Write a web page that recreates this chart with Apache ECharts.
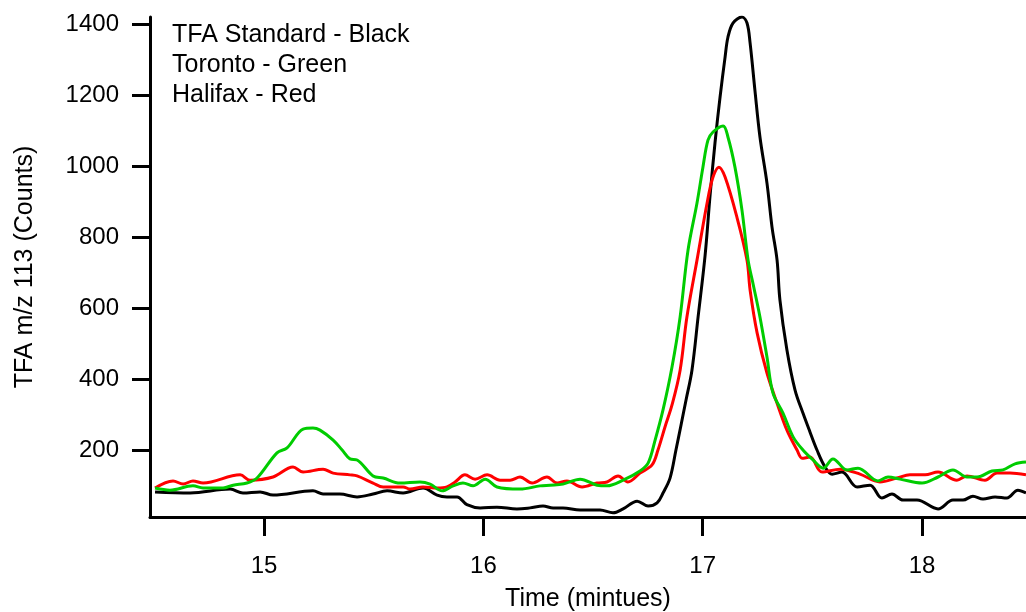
<!DOCTYPE html>
<html>
<head>
<meta charset="utf-8">
<script src="https://cdn.jsdelivr.net/npm/echarts@6/dist/echarts.min.js"></script>
<style>
html,body{margin:0;padding:0;background:#fff;}
#chart{width:1026px;height:612px;}
</style>
</head>
<body>
<div id="chart"></div>
<script>
// Tick labels
var xTicks = [15, 16, 17, 18];
var yTicks = [200, 400, 600, 800, 1000, 1200, 1400];

// TFA Standard - Black  [time (min), counts]
var blackData = [
[14.503,82],[14.663,79],[14.845,90],[14.904,79],[14.982,82],[15.041,73],[15.223,85],[15.269,76],
[15.346,76],[15.424,68],[15.497,76],[15.561,85],[15.634,79],[15.725,93],[15.789,73],[15.834,68],
[15.880,68],[15.925,46],[15.985,37],[16.062,39],[16.153,34],[16.213,37],[16.272,42],[16.318,37],
[16.363,37],[16.441,31],[16.532,31],[16.591,23],[16.637,34],[16.701,56],[16.751,42],[16.792,51],
[16.819,79],[16.851,121],[16.878,200],[16.901,270],[16.924,341],[16.951,425],[16.979,575],[17.011,749],
[17.033,913],[17.056,1065],[17.079,1194],[17.102,1307],[17.115,1363],[17.138,1403],[17.179,1420],[17.202,1403],
[17.216,1347],[17.238,1214],[17.261,1082],[17.293,952],[17.316,828],[17.339,735],[17.352,623],[17.384,482],
[17.421,369],[17.457,304],[17.489,251],[17.521,200],[17.558,152],[17.590,132],[17.635,138],[17.704,96],
[17.763,101],[17.817,65],[17.863,76],[17.913,59],[17.977,59],[18.073,34],[18.141,59],[18.187,59],
[18.232,70],[18.278,62],[18.333,68],[18.387,65],[18.437,87],[18.474,79]
];

// Toronto - Green
var greenData = [
[14.503,93],[14.571,87],[14.676,99],[14.722,93],[14.813,93],[14.859,101],[14.922,107],[14.968,121],
[15.059,192],[15.105,206],[15.178,259],[15.223,262],[15.255,256],[15.315,228],[15.356,200],[15.392,175],
[15.424,172],[15.497,127],[15.543,121],[15.620,107],[15.711,110],[15.757,104],[15.812,85],[15.862,99],
[15.907,107],[15.953,99],[16.008,118],[16.062,96],[16.167,90],[16.258,99],[16.304,101],[16.363,104],
[16.441,118],[16.518,101],[16.564,99],[16.637,115],[16.714,141],[16.751,163],[16.783,228],[16.819,313],
[16.860,434],[16.897,575],[16.933,763],[16.974,896],[17.001,997],[17.024,1073],[17.047,1096],[17.093,1113],
[17.115,1082],[17.147,997],[17.179,876],[17.207,735],[17.229,670],[17.261,575],[17.293,462],[17.320,361],
[17.366,304],[17.412,237],[17.457,200],[17.503,172],[17.549,149],[17.594,175],[17.658,144],[17.708,149],
[17.799,113],[17.845,124],[17.900,118],[18.000,107],[18.073,124],[18.141,144],[18.205,124],[18.251,124],
[18.319,141],[18.369,144],[18.424,161],[18.474,166]
];

// Halifax - Red
var redData = [
[14.503,93],[14.585,113],[14.631,104],[14.676,113],[14.722,107],[14.891,130],[14.936,115],[15.041,124],
[15.132,152],[15.178,138],[15.269,146],[15.315,135],[15.392,130],[15.424,127],[15.497,107],[15.543,96],
[15.634,96],[15.666,90],[15.725,96],[15.789,93],[15.834,96],[15.871,110],[15.916,130],[15.962,118],
[16.017,130],[16.076,115],[16.122,115],[16.167,124],[16.222,107],[16.290,124],[16.336,107],[16.381,113],
[16.450,96],[16.518,107],[16.564,110],[16.614,127],[16.659,110],[16.714,135],[16.769,158],[16.796,200],
[16.828,265],[16.860,327],[16.897,425],[16.928,575],[16.974,735],[17.020,896],[17.047,969],[17.074,997],
[17.102,969],[17.156,856],[17.202,735],[17.216,651],[17.248,530],[17.293,417],[17.339,332],[17.384,256],
[17.430,200],[17.453,177],[17.489,180],[17.544,138],[17.626,146],[17.717,132],[17.808,110],[17.886,121],
[17.945,130],[18.014,130],[18.073,138],[18.159,115],[18.205,127],[18.287,115],[18.342,135],[18.401,135],
[18.474,130]
];

var legendLines = ['TFA Standard - Black', 'Toronto - Green', 'Halifax - Red'];

var FONT = '"Liberation Sans", Arial, sans-serif';
var FS = 24;
var FSN = 25;
var chart = echarts.init(document.getElementById('chart'), null, {renderer: 'canvas'});
function mkSeries(name, data, color) {
  return {
    name: name, type: 'line', data: data, showSymbol: false, smooth: 0.35,
    lineStyle: {color: color, width: 3}, itemStyle: {color: color},
    animation: false, clip: true
  };
}
function plain(v) { return String(v); }
chart.setOption({
  animation: false,
  backgroundColor: '#ffffff',
  title: {
    text: legendLines.join('\n'),
    left: 167, top: 15,
    textStyle: {fontFamily: FONT, fontSize: FSN, fontWeight: 'normal', color: '#000', lineHeight: 30}
  },
  grid: {left: 150, right: 0, top: 17, bottom: 95, containLabel: false, outerBoundsMode: 'none'},
  xAxis: {
    type: 'value', min: 14.48, max: 18.474,
    name: 'Time (mintues)', nameLocation: 'middle', nameGap: 70,
    nameTextStyle: {fontFamily: FONT, fontSize: FSN, color: '#000'},
    axisLine: {show: true, onZero: false, lineStyle: {color: '#000', width: 3}},
    axisTick: {show: true, length: 19, inside: false, customValues: xTicks, lineStyle: {color: '#000', width: 3}},
    axisLabel: {customValues: xTicks, formatter: plain, fontFamily: FONT, fontSize: FS, color: '#000', margin: 37},
    splitLine: {show: false}
  },
  yAxis: {
    type: 'value', min: 11.3, max: 1420,
    name: 'TFA m/z 113 (Counts)', nameLocation: 'middle', nameGap: 112, nameRotate: 90,
    nameTextStyle: {fontFamily: FONT, fontSize: FSN, color: '#000'},
    axisLine: {show: true, onZero: false, lineStyle: {color: '#000', width: 3}},
    axisTick: {show: true, length: 18, inside: false, customValues: yTicks, lineStyle: {color: '#000', width: 3}},
    axisLabel: {customValues: yTicks, formatter: plain, fontFamily: FONT, fontSize: FS, color: '#000', margin: 31},
    splitLine: {show: false}
  },
  series: [
    mkSeries('TFA Standard', blackData, '#000000'),
    mkSeries('Halifax', redData, '#ff0000'),
    mkSeries('Toronto', greenData, '#00cc00')
  ]
});
</script>
</body>
</html>
